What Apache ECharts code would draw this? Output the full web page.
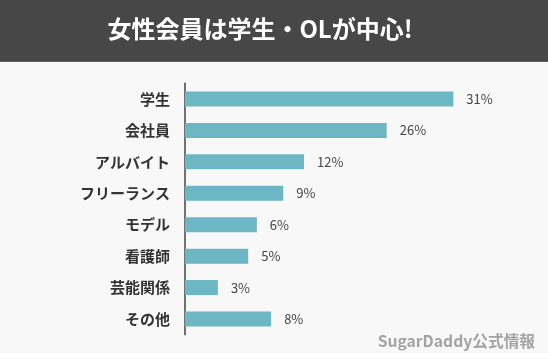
<!DOCTYPE html>
<html>
<head>
<meta charset="utf-8">
<script src="https://cdn.jsdelivr.net/npm/echarts@6/dist/echarts.min.js"></script>
<style>
html,body{margin:0;padding:0;background:#ffffff;}
#chart{width:548px;height:361px;}
</style>
</head>
<body>
<div id="chart"></div>
<script>
const titleText = '女性会員は学生・OLが中心!';
const sourceText = 'SugarDaddy公式情報';
const categories = ['学生', '会社員', 'アルバイト', 'フリーランス', 'モデル', '看護師', '芸能関係', 'その他'];
// percentages printed next to the bars
const percentLabels = [31, 26, 12, 9, 6, 5, 3, 8];
// bar lengths as drawn in the picture (in % units of the axis)
const barLengths = [31, 23.3, 13.75, 11.35, 8.3, 7.3, 3.8, 9.95];

const FONT = '"Noto Sans CJK JP", "Noto Sans", sans-serif';
const chart = echarts.init(document.getElementById('chart'), null, {renderer: 'canvas'});
chart.setOption({
  backgroundColor: '#ffffff',
  animation: false,
  graphic: [
    {type: 'rect', z: -10, shape: {x: 0, y: 62, width: 548, height: 291}, style: {fill: '#f8f8f8'}},
    {type: 'rect', z: -5, shape: {x: 0, y: 0, width: 548, height: 62}, style: {fill: '#474747'}},
    {type: 'rect', z: -5, shape: {x: 0, y: 61, width: 548, height: 1}, style: {fill: '#5e5e5e'}},
    {type: 'text', x: 260, y: 29, style: {text: titleText, fill: '#ffffff', font: 'bold 24px ' + FONT, textAlign: 'center', textVerticalAlign: 'middle'}},
    {type: 'text', x: 535, y: 341, style: {text: sourceText, fill: '#a3a3a3', font: 'bold 15.7px ' + FONT, textAlign: 'right', textVerticalAlign: 'middle'}}
  ],
  grid: {left: 185, right: 60, top: 83.3, bottom: 26.3, containLabel: false},
  xAxis: {
    type: 'value', min: 0, max: 35, show: false,
    splitLine: {show: false}
  },
  yAxis: {
    type: 'category', inverse: true, data: categories,
    axisLine: {show: true, lineStyle: {color: '#444444', width: 1.5}},
    axisTick: {show: false},
    axisLabel: {color: '#333333', fontSize: 15, fontWeight: 'bold', fontFamily: FONT, margin: 15}
  },
  series: [{
    type: 'bar',
    data: barLengths,
    barWidth: 15,
    itemStyle: {color: '#6db7c4'},
    label: {
      show: true, position: 'right', distance: 13,
      color: '#444444', fontSize: 13, fontFamily: FONT,
      formatter: p => percentLabels[p.dataIndex] + '%'
    }
  }]
});
</script>
</body>
</html>
